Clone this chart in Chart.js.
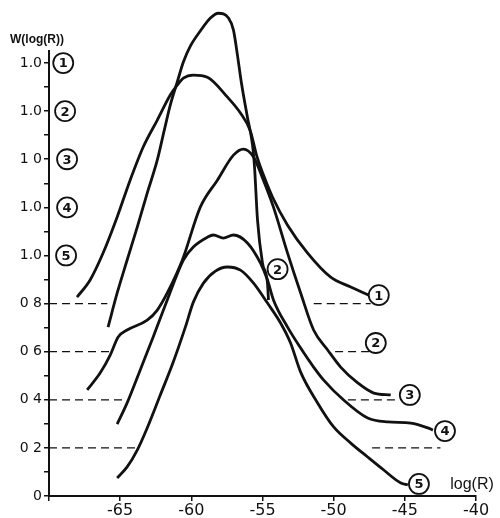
<!DOCTYPE html>
<html>
<head>
<meta charset="utf-8">
<script src="https://cdn.jsdelivr.net/npm/chart.js@4.4.1/dist/chart.umd.min.js"></script>
<style>
  html, body { margin: 0; background: #fff; }
  #wrap { width: 500px; height: 518px; }
</style>
</head>
<body>
<div id="wrap"><canvas id="chart"></canvas></div>
<script>
// ── Data (each curve carries its own offset) ──

const curve1X = [-68.03, -67.11, -66.20, -65.21, -64.30, -63.38, -62.39, -61.48, -60.99, -60.56,
                 -59.86, -58.87, -57.46, -56.55, -55.85, -55.42, -54.93, -54.30, -53.24,
                 -51.83, -50.21, -48.80, -47.54];
const curve1Y = [0.827, 0.898, 1.010, 1.160, 1.313, 1.451, 1.563, 1.667, 1.708, 1.737,
                 1.750, 1.741, 1.658, 1.592, 1.517, 1.417, 1.334, 1.243, 1.126,
                 1.010, 0.910, 0.869, 0.835];

const curve2X = [-65.85, -65.21, -64.51, -63.80, -63.10, -62.39, -61.90, -61.48, -60.99, -60.56,
                 -60.07, -59.37, -58.66, -58.10, -57.39, -57.04, -56.76, -56.48, -56.06, -55.70,
                 -55.56, -55.35, -55.00, -54.65, -54.58];
const curve2Y = [0.702, 0.844, 0.981, 1.118, 1.259, 1.397, 1.521, 1.625, 1.721, 1.804,
                 1.870, 1.933, 1.987, 2.007, 1.987, 1.937, 1.833, 1.717, 1.575, 1.459,
                 1.367, 1.147, 0.968, 0.885, 0.815];

const curve3X = [-67.32, -66.41, -65.70, -65.14, -64.51, -63.10, -62.39, -61.69, -60.63, -59.37,
                 -58.17, -57.04, -56.34, -55.63, -55.00, -54.23, -53.24, -52.32, -51.41, -50.42,
                 -49.51, -48.31, -47.18, -45.99];
const curve3Y = [0.441, 0.511, 0.586, 0.661, 0.690, 0.731, 0.773, 0.844, 0.981, 1.201,
                 1.313, 1.417, 1.442, 1.409, 1.322, 1.201, 1.010, 0.844, 0.690, 0.607,
                 0.536, 0.470, 0.428, 0.420];

const curve4X = [-65.21, -64.51, -63.59, -62.68, -61.69, -60.56, -59.86, -58.87, -58.45, -57.75,
                 -57.04, -56.06, -55.14, -54.65, -54.23, -53.24, -52.32, -51.41, -50.70, -49.30,
                 -47.61, -46.20, -44.58, -43.38, -43.03];
const curve4Y = [0.299, 0.387, 0.524, 0.661, 0.815, 0.981, 1.035, 1.076, 1.085, 1.072,
                 1.085, 1.052, 0.968, 0.898, 0.815, 0.702, 0.615, 0.536, 0.482, 0.399,
                 0.324, 0.308, 0.303, 0.283, 0.274];

const curve5X = [-65.21, -64.51, -63.80, -63.10, -62.18, -61.27, -60.42, -59.86, -59.15, -58.31,
                 -57.46, -56.55, -55.63, -54.65, -53.73, -53.03, -52.32, -51.13, -50.00, -48.80,
                 -47.61, -46.48, -45.28, -44.79];
const curve5Y = [0.075, 0.121, 0.191, 0.283, 0.420, 0.557, 0.702, 0.806, 0.885, 0.935,
                 0.952, 0.939, 0.885, 0.802, 0.719, 0.636, 0.515, 0.387, 0.287, 0.220,
                 0.162, 0.108, 0.054, 0.046];

// dashed zero lines of the shifted curves (left piece from the axis, right piece near the tail)
const baseLevels     = [0.8, 0.6, 0.4, 0.2];
const baseLeftEnd    = [-65.9, -65.7, -64.5, -63.8];
const baseRightStart = [-51.4, -49.9, -49.0, -47.3];
const baseRightEnd   = [-47.4, -47.3, -45.5, -42.5];

const xTickValues = [-70, -65, -60, -55, -50, -45, -40];
const xTickLabels = ["", "-65", "-60", "-55", "-50", "-45", "-40"];

const yTickValues = [0, 0.1, 0.2, 0.3, 0.4, 0.5, 0.6, 0.7, 0.8, 0.9,
                     1.0, 1.1, 1.2, 1.3, 1.4, 1.5, 1.6, 1.7, 1.8];
const yTickLabels = ["0", "", "0 2", "", "0 4", "", "0 6", "", "0 8", "",
                     "1.0", "", "1.0", "", "1 0", "", "1.0", "", "1.0"];

// circled curve numbers: next to the axis, and at the curve ends
const axisTagText = ["1", "2", "3", "4", "5"];
const axisTagX    = [-69.0, -68.87, -68.73, -68.73, -68.8];
const axisTagY    = [1.8, 1.6, 1.4, 1.2, 1.0];

const endTagText = ["1", "2", "3", "4", "5", "2"];
const endTagX    = [-46.83, -47.04, -44.65, -42.18, -44.01, -53.94];
const endTagY    = [0.835, 0.636, 0.420, 0.270, 0.050, 0.943];

// ── Build datasets ───────────────────────────────────────────────

const INK = "#111";
const zip = (xs, ys) => xs.map((x, i) => ({ x, y: ys[i] }));

const curves = [
  [curve1X, curve1Y], [curve2X, curve2Y], [curve3X, curve3Y],
  [curve4X, curve4Y], [curve5X, curve5Y],
];

const datasets = curves.map(([xs, ys]) => ({
  data: zip(xs, ys),
  showLine: true,
  borderColor: INK,
  borderWidth: 2.8,
  pointRadius: 0,
  cubicInterpolationMode: "monotone",
  clip: false,
}));

baseLevels.forEach((lvl, i) => {
  const dashed = {
    showLine: true,
    borderColor: INK,
    borderWidth: 1.3,
    borderDash: [8, 5],
    pointRadius: 0,
    tension: 0,
  };
  datasets.push({ ...dashed, data: [{ x: -70, y: lvl }, { x: baseLeftEnd[i], y: lvl }] });
  datasets.push({ ...dashed, data: [{ x: baseRightStart[i], y: lvl }, { x: baseRightEnd[i], y: lvl }] });
});

// ── Circled numbers and axis titles ──────────────────────────────

const tagPlugin = {
  id: "tags",
  afterDatasetsDraw(chart) {
    const { ctx, scales: { x, y }, chartArea } = chart;

    const circled = (txt, vx, vy) => {
      const px = x.getPixelForValue(vx);
      const py = y.getPixelForValue(vy);
      ctx.beginPath();
      ctx.arc(px, py, 10, 0, Math.PI * 2);
      ctx.fillStyle = "#fff";
      ctx.fill();
      ctx.lineWidth = 1.8;
      ctx.strokeStyle = INK;
      ctx.stroke();
      ctx.fillStyle = INK;
      ctx.font = "bold 13px 'DejaVu Sans'";
      ctx.textAlign = "center";
      ctx.textBaseline = "middle";
      ctx.fillText(txt, px, py + 1);
    };

    ctx.save();
    axisTagText.forEach((t, i) => circled(t, axisTagX[i], axisTagY[i]));
    endTagText.forEach((t, i) => circled(t, endTagX[i], endTagY[i]));

    ctx.fillStyle = INK;
    ctx.textBaseline = "middle";
    ctx.textAlign = "left";
    ctx.font = "bold 12px 'Liberation Sans'";
    ctx.fillText("W(log(R))", chartArea.left - 39, chartArea.top - 11);
    ctx.textAlign = "center";
    ctx.font = "16px 'Liberation Sans'";
    ctx.fillText("log(R)", chartArea.right - 4, chartArea.bottom - 11);
    ctx.restore();
  },
};

// ── Chart ────────────────────────────────────────────────────────

new Chart(document.getElementById("chart"), {
  type: "scatter",
  data: { datasets },
  plugins: [tagPlugin],
  options: {
    responsive: true,
    maintainAspectRatio: false,
    animation: false,
    layout: { padding: { top: 51, right: 24, left: 0, bottom: 0 } },
    plugins: { legend: { display: false }, tooltip: { enabled: false } },
    scales: {
      x: {
        type: "linear",
        min: -70,
        max: -40,
        afterBuildTicks: (s) => { s.ticks = xTickValues.map(v => ({ value: v })); },
        afterFit: (s) => { s.height = 22; },
        border: { display: true, color: INK, width: 2 },
        grid: { drawOnChartArea: false, drawTicks: true, tickLength: 5, color: INK, lineWidth: 1.5 },
        ticks: {
          padding: 0,
          color: INK,
          font: { family: "'DejaVu Sans'", size: 16 },
          maxRotation: 0,
          callback: (v, i) => xTickLabels[i],
        },
      },
      y: {
        type: "linear",
        min: 0,
        max: 1.85,
        afterBuildTicks: (s) => { s.ticks = yTickValues.map(v => ({ value: v })); },
        afterFit: (s) => { s.width = 49; },
        border: { display: true, color: INK, width: 2 },
        grid: { drawOnChartArea: false, drawTicks: true, tickLength: 5, color: INK, lineWidth: 1.5 },
        ticks: {
          padding: 2,
          color: INK,
          autoSkip: false,
          font: { family: "'DejaVu Sans'", size: 14 },
          callback: (v, i) => yTickLabels[i],
        },
      },
    },
  },
});
</script>
</body>
</html>
